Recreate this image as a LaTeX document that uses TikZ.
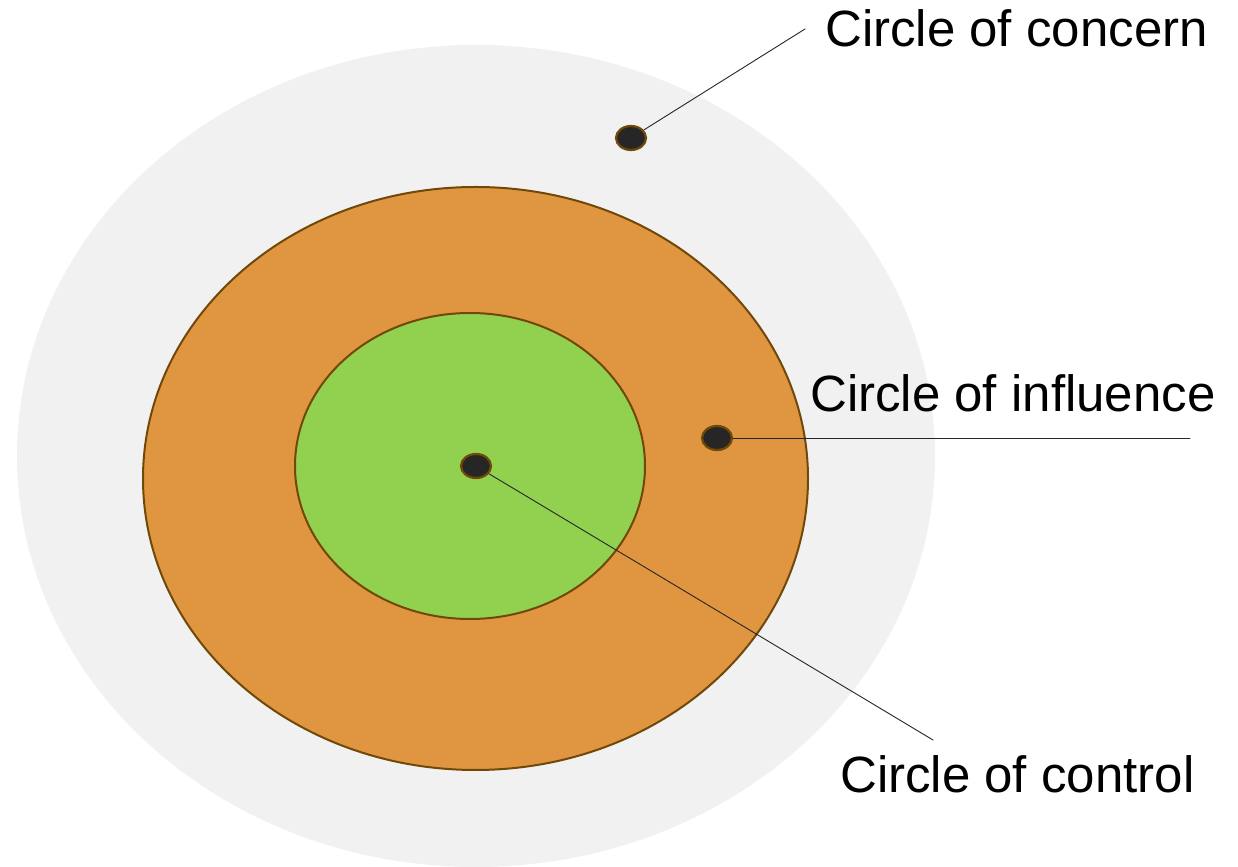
\documentclass[tikz,border=0pt]{standalone}
\usepackage{fontspec}
\setmainfont{Liberation Sans}
\usetikzlibrary{shapes.geometric}
\definecolor{CircleGray}{RGB}{241,241,241}
\definecolor{CircleOrange}{RGB}{224,150,64}
\definecolor{CircleGreen}{RGB}{146,209,79}
\definecolor{CircleBrown}{RGB}{112,72,8}
\definecolor{DotBlack}{RGB}{38,38,38}

\begin{document}
\begin{tikzpicture}[x=1bp,y=1bp,line cap=round,line join=round]
  \path[use as bounding box] (0,0) rectangle (1238,867);
  \fill[white] (0,0) rectangle (1238,867);

  \tikzset{
    ring/.style={line width=2bp,draw=CircleBrown},
    dotmark/.style={ellipse,draw=CircleBrown,fill=DotBlack,line width=2.2bp,
      minimum width=30bp,minimum height=24bp,inner sep=0pt},
    caption/.style={anchor=base west,inner sep=0pt,text=black,
      font=\fontsize{51bp}{51bp}\selectfont},
    leader/.style={line width=0.9bp,draw=black!85},
  }

  % circles
  \begin{scope}
    \clip (0,0) rectangle (1238,867);
    \fill[CircleGray] (476,411) ellipse [x radius=459,y radius=411];
  \end{scope}
  \filldraw[ring,fill=CircleOrange] (475.5,388.5) ellipse [x radius=332.5,y radius=291.5];
  \filldraw[ring,fill=CircleGreen] (470,401) ellipse [x radius=175,y radius=153];

  % dots
  \node[dotmark] (concerndot) at (631,729) {};
  \node[dotmark] (influencedot) at (717,429) {};
  \node[dotmark] (controldot) at (476,401) {};

  % labels
  \node[caption] (concern) at (825,820) {Circle of concern};
  \node[caption] (influence) at (810,455) {Circle of influence};
  \node[caption] (control) at (840,74) {Circle of control};

  \coordinate (concernend) at (805,838);
  \coordinate (influenceend) at (1190,429);
  \coordinate (controlend) at (933,127);

  % leaders
  \draw[leader] (concerndot) -- (concernend);
  \draw[leader] (influencedot.east) -- (influenceend);
  \draw[leader] (controldot) -- (controlend);
\end{tikzpicture}
\end{document}
